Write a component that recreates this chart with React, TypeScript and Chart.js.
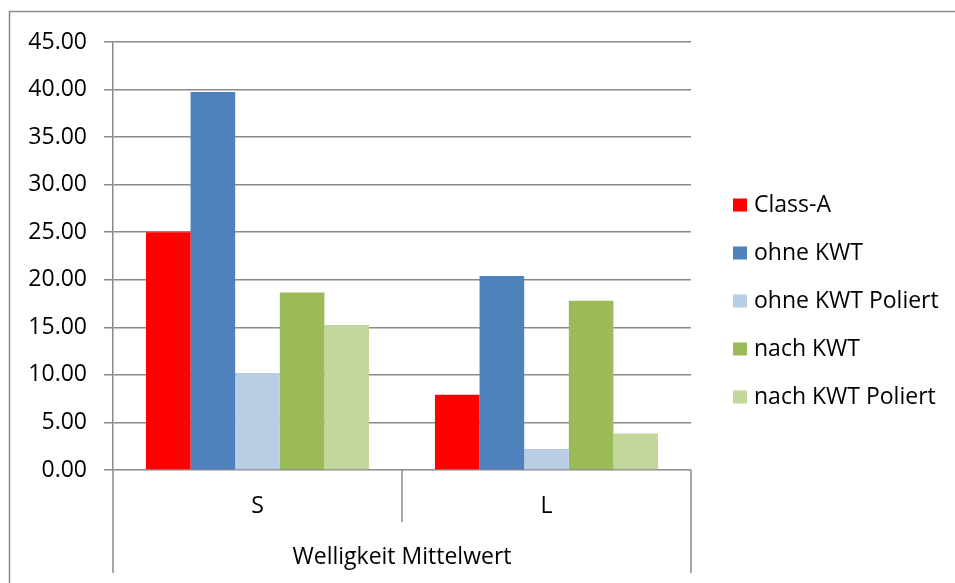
import React, { useEffect, useRef } from "react";
import { Chart, registerables } from "chart.js";

Chart.register(...registerables);

const categories = ["S", "L"];
const seriesNames = ["Class-A", "ohne KWT", "ohne KWT Poliert", "nach KWT", "nach KWT Poliert"];
const classA = [25.0, 7.9];
const ohneKWT = [39.75, 20.4];
const ohneKWTPoliert = [10.2, 2.2];
const nachKWT = [18.65, 17.8];
const nachKWTPoliert = [15.25, 3.85];
const seriesColors = ["#FF0000", "#4F81BD", "#B9CDE5", "#9BBB59", "#C3D69B"];
const axisTitle = "Welligkeit Mittelwert";
const yMin = 0;
const yMax = 45;
const yStep = 5;

const FONT = "'Open Sans', 'Liberation Sans', sans-serif";
const FS = 23;
const LINE = "#8a8a8a";

const framePlugin = {
  id: "excelFrame",
  afterDraw(chart: any) {
    const { ctx, chartArea } = chart;
    const { left, right, bottom } = chartArea;
    const xs = chart.scales.x;
    const n = xs.ticks.length;
    const w = (right - left) / n;
    ctx.save();
    ctx.strokeStyle = LINE;
    ctx.lineWidth = 1.5;
    // outer chart frame
    ctx.beginPath();
    ctx.moveTo(9.5, 600);
    ctx.lineTo(9.5, 11.5);
    ctx.lineTo(1000, 11.5);
    ctx.stroke();
    // category separators and outer group lines
    for (let i = 0; i <= n; i++) {
      const px = Math.round(xs.getPixelForValue(0) - w / 2 + i * w);
      const end = i === 0 || i === n ? 573 : 522;
      ctx.beginPath();
      ctx.moveTo(px, bottom);
      ctx.lineTo(px, end);
      ctx.stroke();
    }
    // legend
    const ds = chart.data.datasets;
    ctx.font = `${FS}px ${FONT}`;
    ctx.textBaseline = "middle";
    ctx.textAlign = "left";
    ds.forEach((d: any, i: number) => {
      const cy = 205 + i * 48;
      ctx.fillStyle = d.backgroundColor;
      ctx.fillRect(733, cy - 6.5, 14, 13);
      ctx.fillStyle = "#000";
      ctx.fillText(d.label, 754, cy);
    });
    ctx.restore();
  },
};

export default function App() {
  const ref = useRef<HTMLCanvasElement>(null);
  useEffect(() => {
    if (!ref.current) return;
    const values = [classA, ohneKWT, ohneKWTPoliert, nachKWT, nachKWTPoliert];
    const chart = new Chart(ref.current, {
      type: "bar",
      data: {
        labels: categories,
        datasets: seriesNames.map((name, i) => ({
          label: name,
          data: values[i],
          backgroundColor: seriesColors[i],
          borderWidth: 0,
          categoryPercentage: 0.772,
          barPercentage: 1,
        })),
      },
      options: {
        responsive: false,
        animation: false,
        layout: { padding: { left: 0, top: 42, right: 264, bottom: 0 } },
        plugins: { legend: { display: false }, tooltip: { enabled: false } },
        scales: {
          x: {
            grid: { display: false, drawTicks: false },
            border: { display: false },
            ticks: { color: "#000", font: { family: FONT, size: FS }, padding: 23 },
            title: {
              display: true,
              text: axisTitle,
              color: "#000",
              font: { family: FONT, size: FS },
              padding: { top: 0, bottom: 12 },
            },
            afterFit: (s: any) => {
              s.height = 113;
            },
          },
          y: {
            min: yMin,
            max: yMax,
            ticks: {
              stepSize: yStep,
              color: "#000",
              font: { family: FONT, size: FS },
              padding: 17,
              callback: (v: any) => Number(v).toFixed(2),
            },
            grid: { color: LINE, lineWidth: 1.5, tickLength: 9 },
            border: { color: LINE, width: 1.5 },
            afterFit: (s: any) => {
              s.width = 113;
            },
          },
        },
      },
      plugins: [framePlugin],
    });
    return () => chart.destroy();
  }, []);
  return (
    <div style={{ position: "absolute", left: 0, top: 0, width: 955, height: 583, background: "#fff" }}>
      <canvas ref={ref} width={955} height={583} />
    </div>
  );
}
